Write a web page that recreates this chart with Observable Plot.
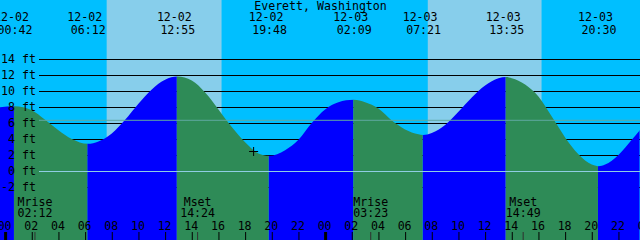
<!DOCTYPE html>
<html><head><meta charset="utf-8">
<script src="https://cdn.jsdelivr.net/npm/d3@7"></script>
<script src="https://cdn.jsdelivr.net/npm/@observablehq/plot@0.6"></script>
<style>html,body{margin:0;padding:0;background:#00BFFF;overflow:hidden}#chart svg{display:block}</style>
</head><body><div id="chart"></div>
<script>
// ---- data ----
const title = "Everett, Washington";
const year = "2024";
const viewStart = "12-01 23:37";
const viewEnd = "12-03 23:37";

// tide extremes (labels at top)
const tideDates = ["12-02", "12-02", "12-02", "12-02", "12-03", "12-03", "12-03", "12-03"];
const tideClock = ["00:42", "06:12", "12:55", "19:48", "02:09", "07:21", "13:35", "20:30"];
const tideKinds = ["H", "L", "H", "L", "H", "L", "H", "L"];
const tideHeights = [8.1, 3.4, 11.8, 1.9, 8.9, 4.5, 11.75, 0.6];

// tide curve readings (hours after 12-02 00:00, feet)
const curveHours = [-0.5, 2, 3, 4, 5, 7, 8, 9, 10, 11, 12, 14, 15, 16, 17, 18, 19, 21, 22, 23, 24, 25, 27, 28, 29, 30, 31, 32, 33, 34, 35, 36, 37, 38, 39, 40, 41, 42, 43, 44, 45, 46, 47, 48];
const curveHeights = [7.95, 7.6, 6.4, 5.1, 4.0, 3.7, 4.7, 6.4, 8.4, 10.2, 11.4, 11.3, 9.8, 7.7, 5.5, 3.6, 2.2, 2.6, 3.9, 6.0, 7.7, 8.6, 8.6, 7.8, 6.3, 5.2, 4.6, 4.75, 5.75, 7.4, 9.2, 10.7, 11.6, 11.6, 10.8, 9.3, 6.8, 4.2, 2.1, 0.8, 0.8, 2.0, 3.9, 5.9];

// daylight
const sunrises = ["12-02 07:37", "12-03 07:42"];
const sunsets = ["12-02 16:14", "12-03 16:14"];

// moon events (labels at bottom)
const moonKinds = ["Mrise", "Mset", "Mrise", "Mset"];
const moonDates = ["12-02", "12-02", "12-03", "12-03"];
const moonClock = ["02:12", "14:24", "03:23", "14:49"];

// axes
const levelTicks = [-2, 0, 2, 4, 6, 8, 10, 12, 14];
const gridLevels = [-2, 2, 4, 6, 8, 10, 12, 14];
const datumLevel = 0;
const meanLevel = 6.4;
const hourOffsets = [0, 2, 4, 6, 8, 10, 12, 14, 16, 18, 20, 22, 24, 26, 28, 30, 32, 34, 36, 38, 40, 42, 44, 46, 48];
const hourLabels = ["00", "02", "04", "06", "08", "10", "12", "14", "16", "18", "20", "22", "00", "02", "04", "06", "08", "10", "12", "14", "16", "18", "20", "22", "00"];

// "+" marker
const markerStamp = "12-02 18:36";
const markerHeight = 2.5;

// ---- build tables ----
const parse = d3.utcParse("%Y %m-%d %H:%M");
const t = s => parse(year + " " + s);
const base = t("12-02 00:00");
const atHour = h => new Date(+base + h * 3600e3);
const xDomain = [t(viewStart), t(viewEnd)];
const yDomain = [-8.625, 21.375];

const events = tideDates.map((d, i) => ({time: t(d + " " + tideClock[i]), date: d, clock: tideClock[i], kind: tideKinds[i], height: tideHeights[i]}));
const curve = curveHours.map((h, i) => ({time: atHour(h), height: curveHeights[i]}))
  .concat(events.map(e => ({time: e.time, height: e.height})))
  .sort((a, b) => a.time - b.time);
const days = sunrises.map((s, i) => ({rise: t(s), set: t(sunsets[i])}));
const moon = moonKinds.map((k, i) => ({kind: k, clock: moonClock[i], time: t(moonDates[i] + " " + moonClock[i])}));
const hours = hourOffsets.map((h, i) => ({time: atHour(h), label: hourLabels[i], midnight: hourLabels[i] === "00"}));
const marker = [{time: t(markerStamp), height: markerHeight}];

const txt = {lineAnchor: "middle"};
const svg = Plot.plot({
  width: 640, height: 240, margin: 0,
  x: {type: "utc", domain: xDomain, axis: null},
  y: {domain: yDomain, axis: null},
  style: {background: "#00BFFF", fontFamily: "'DejaVu Sans Mono', monospace", fontSize: "11.6px", color: "black", overflow: "hidden"},
  marks: [
    Plot.rect(days, {x1: "rise", x2: "set", y1: yDomain[0], y2: yDomain[1], fill: "#87CEEB"}),
    Plot.ruleY(gridLevels, {stroke: "black", insetLeft: 39}),
    Plot.areaY(curve, {x: "time", y1: yDomain[0], y2: "height", curve: "monotone-x", fill: "#0000FF", ariaDescription: "flood"}),
    Plot.areaY(curve, {x: "time", y1: yDomain[0], y2: "height", curve: "monotone-x", fill: "#2E8B57", ariaDescription: "ebb"}),
    Plot.ruleY([datumLevel], {stroke: "#8FCDE3", insetLeft: 39}),
    Plot.ruleY([meanLevel], {stroke: "#5FA8A0", insetLeft: 39}),
    Plot.dot(marker, {x: "time", y: "height", symbol: "plus", r: 3, stroke: "black", strokeWidth: 1}),
    Plot.text(levelTicks, {...txt, y: d => d, text: d => `${d} ft`, frameAnchor: "left", textAnchor: "end", dx: 35.5}),
    Plot.text([title], {...txt, frameAnchor: "top", dy: 5.5}),
    Plot.text(events, {...txt, x: "time", text: "date", frameAnchor: "top", dy: 17, dx: -3.5}),
    Plot.text(events, {...txt, x: "time", text: "clock", frameAnchor: "top", dy: 29.5}),
    Plot.text(moon, {...txt, x: "time", text: "kind", frameAnchor: "bottom", dy: -38}),
    Plot.text(moon, {...txt, x: "time", text: "clock", frameAnchor: "bottom", dy: -27.5}),
    Plot.text(hours, {...txt, x: "time", text: "label", frameAnchor: "bottom", dy: -14, dx: -1}),
    Plot.ruleX(hours.filter(d => !d.midnight), {x: "time", insetTop: 232, stroke: "black"}),
    Plot.ruleX(hours.filter(d => d.midnight), {x: "time", insetTop: 232, stroke: "black", strokeWidth: 3}),
    Plot.ruleX(moon, {x: "time", insetTop: 232, stroke: "#303030"})
  ]
});

// clip the water area into flood (rising) and ebb (falling) spans
const xs = svg.scale("x");
const bounds = [xDomain[0], ...events.map(e => e.time), xDomain[1]];
const spans = {flood: [], ebb: []};
for (let i = 0; i < bounds.length - 1; i++) {
  const rising = i < events.length ? events[i].kind === "H" : events[events.length - 1].kind === "L";
  spans[rising ? "flood" : "ebb"].push([bounds[i], bounds[i + 1]]);
}
const root = d3.select(svg);
const defs = root.append("defs");
for (const key of ["flood", "ebb"]) {
  const cp = defs.append("clipPath").attr("id", "clip-" + key);
  for (const [a, b] of spans[key]) {
    const x0 = xs.apply(a), x1 = xs.apply(b);
    cp.append("rect").attr("x", x0 - 0.5).attr("y", -20).attr("width", x1 - x0).attr("height", 300);
  }
  root.select(`g[aria-description="${key}"]`).attr("clip-path", `url(#clip-${key})`);
}
document.getElementById("chart").append(svg);
</script></body></html>
